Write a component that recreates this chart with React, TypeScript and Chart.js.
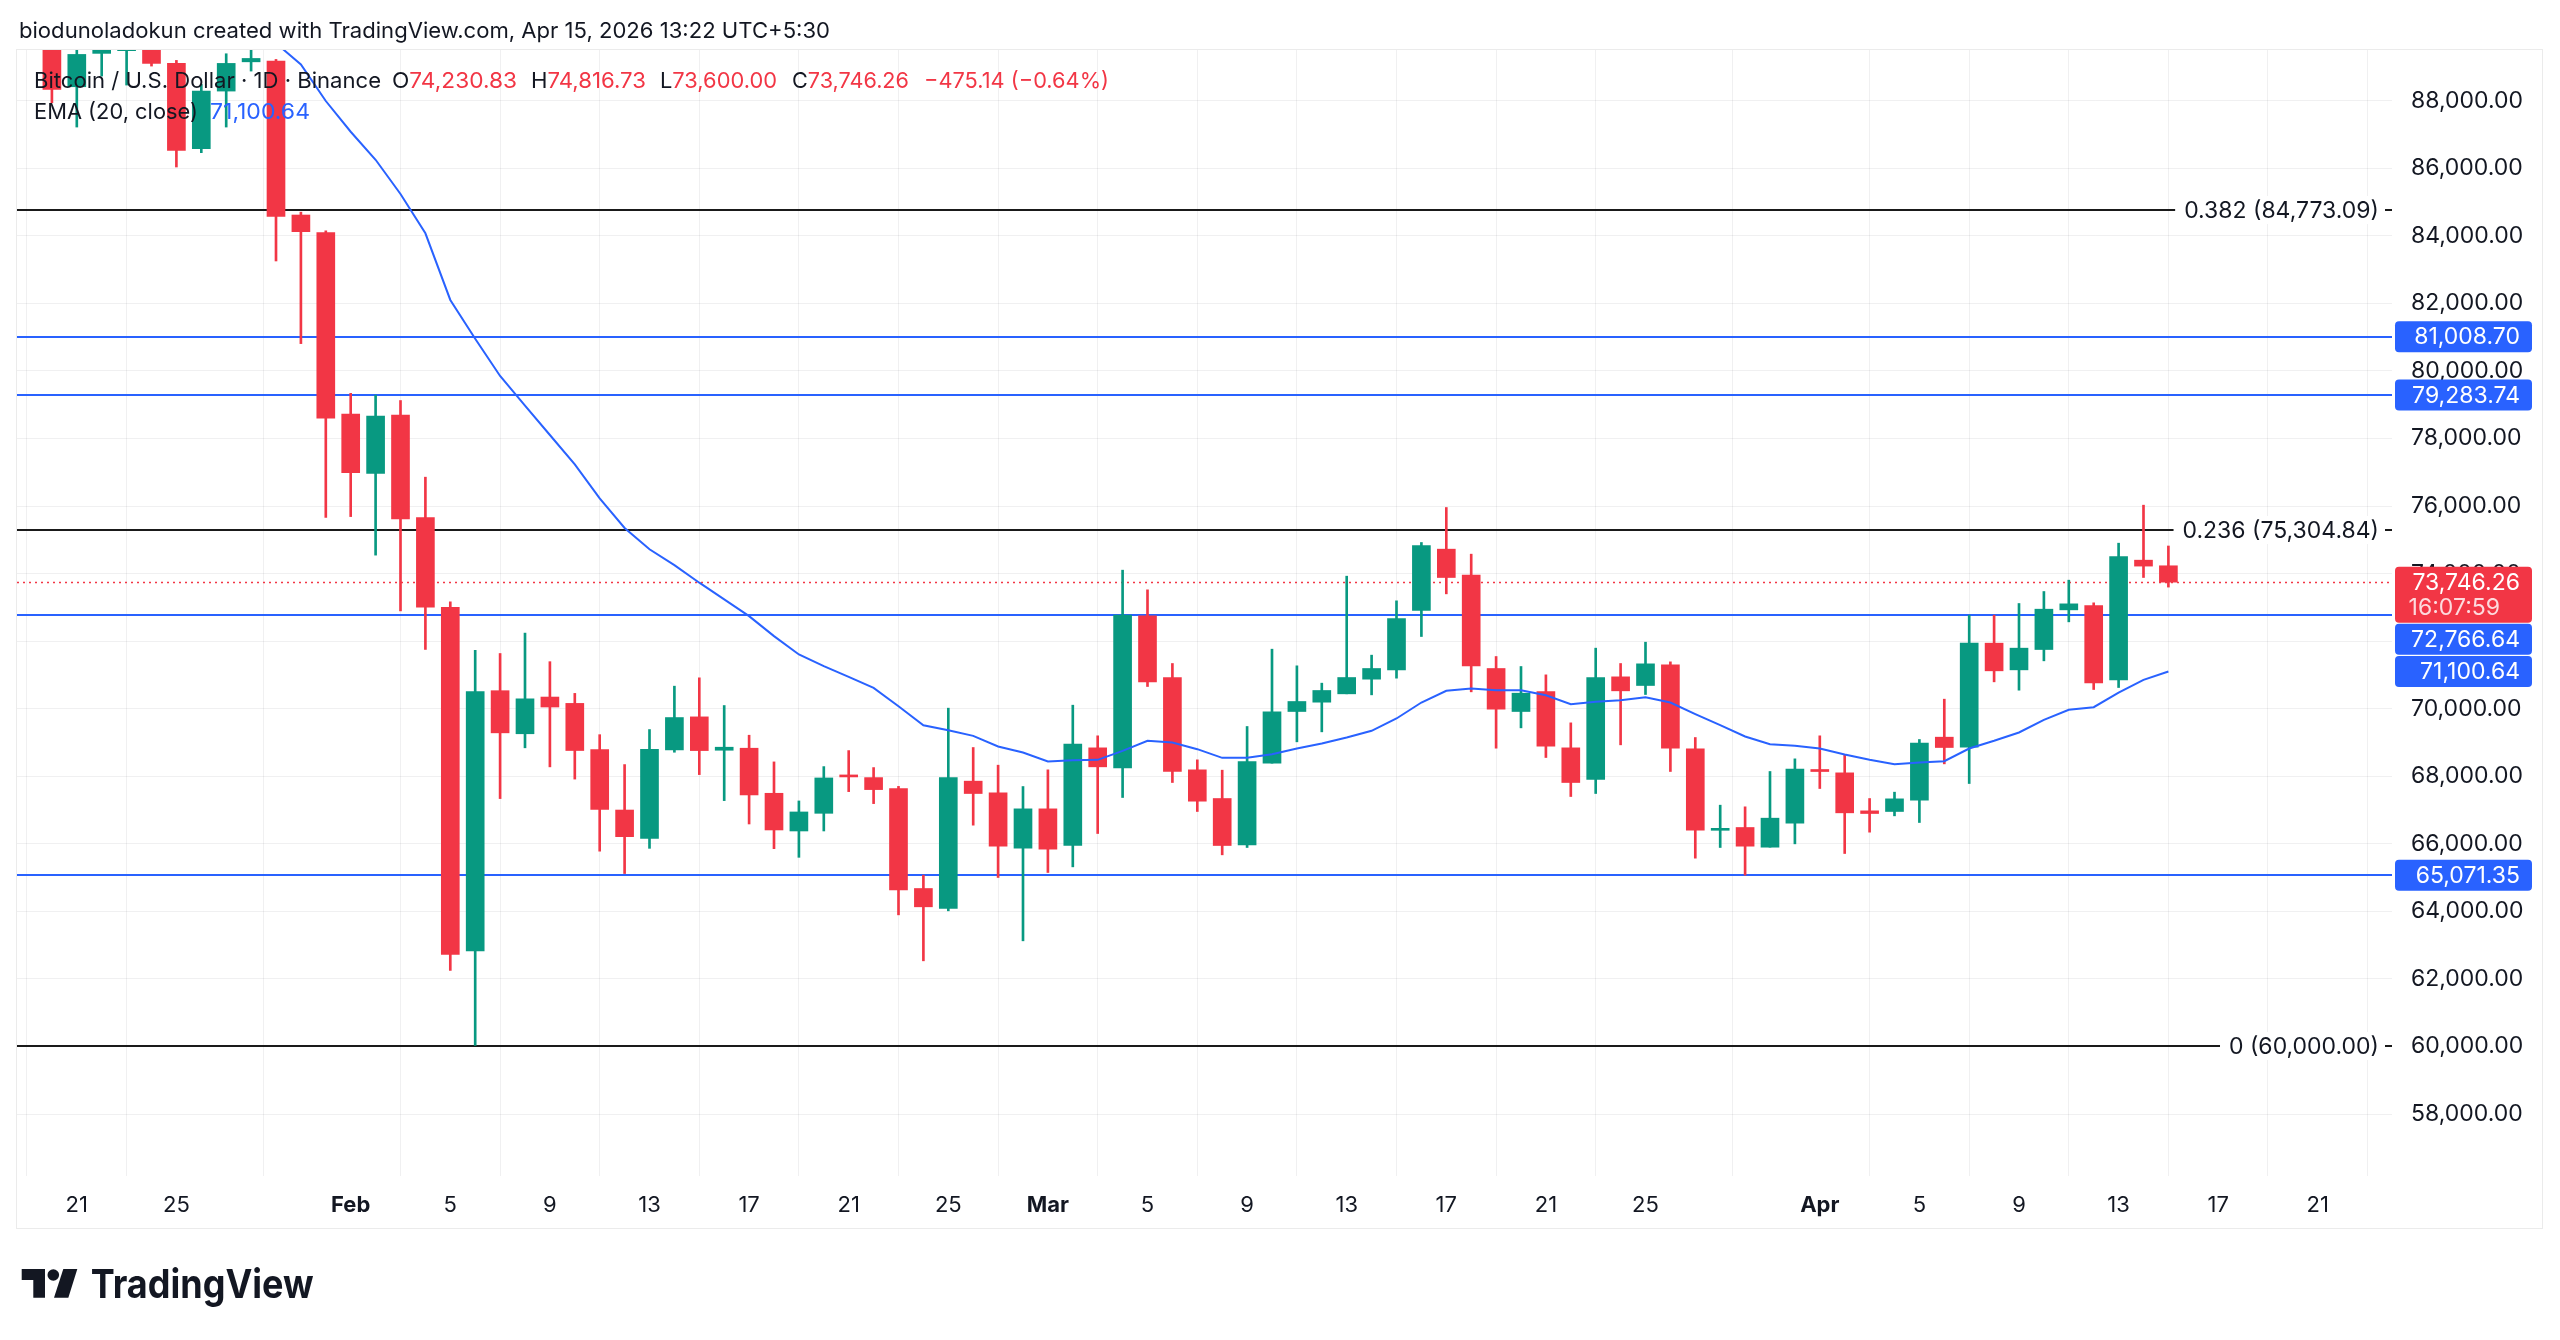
import React, { useEffect, useRef } from "react";
import { Chart, registerables } from "chart.js";

Chart.register(...registerables);

const dates = [
  "2026-01-19","2026-01-20","2026-01-21","2026-01-22","2026-01-23","2026-01-24","2026-01-25","2026-01-26","2026-01-27","2026-01-28","2026-01-29","2026-01-30","2026-01-31",
  "2026-02-01","2026-02-02","2026-02-03","2026-02-04","2026-02-05","2026-02-06","2026-02-07","2026-02-08","2026-02-09","2026-02-10","2026-02-11","2026-02-12","2026-02-13","2026-02-14",
  "2026-02-15","2026-02-16","2026-02-17","2026-02-18","2026-02-19","2026-02-20","2026-02-21","2026-02-22","2026-02-23","2026-02-24","2026-02-25","2026-02-26","2026-02-27","2026-02-28",
  "2026-03-01","2026-03-02","2026-03-03","2026-03-04","2026-03-05","2026-03-06","2026-03-07","2026-03-08","2026-03-09","2026-03-10","2026-03-11","2026-03-12","2026-03-13","2026-03-14",
  "2026-03-15","2026-03-16","2026-03-17","2026-03-18","2026-03-19","2026-03-20","2026-03-21","2026-03-22","2026-03-23","2026-03-24","2026-03-25","2026-03-26","2026-03-27","2026-03-28",
  "2026-03-29","2026-03-30","2026-03-31",
  "2026-04-01","2026-04-02","2026-04-03","2026-04-04","2026-04-05","2026-04-06","2026-04-07","2026-04-08","2026-04-09","2026-04-10","2026-04-11","2026-04-12","2026-04-13","2026-04-14","2026-04-15",
];

const opens = [
  93600, 92550, 88412, 89400, 89480, 89560, 89103, 86578, 88284, 89150, 89172, 84615, 84093,
  78720, 76962, 78693, 75660, 73003, 62829, 70533, 69258, 70345, 70157, 68788, 67000, 66163, 68780,
  69758, 68770, 68830, 67496, 66380, 66903, 68010, 67960, 67637, 64677, 64085, 67855, 67509, 65871,
  67035, 65950, 68841, 68249, 72749, 70923, 68190, 67341, 65970, 68387, 69917, 70193, 70440, 70874,
  71150, 72907, 74723, 73953, 71190, 69917, 70509, 68841, 67904, 70943, 70687, 71298, 68811, 66400,
  66483, 65900, 66611,
  68200, 68101, 66976, 66957, 67292, 69157, 68861, 71940, 71150, 71752, 72926, 73055, 70854, 74397, 74230.83,
];

const highs = [
  93700, 92800, 90300, 90200, 91000, 89700, 89192, 88482, 89389, 90500, 89221, 84700, 84150,
  79337, 79284, 79123, 76854, 73164, 71728, 71634, 72238, 71392, 70453, 69231, 68346, 69383, 70667,
  70914, 70094, 69215, 68425, 67269, 68286, 68760, 68257, 67700, 65072, 70016, 68851, 68328, 67696,
  68190, 70104, 69197, 74101, 73519, 71338, 68486, 68180, 69473, 71762, 71269, 70756, 73923, 71585,
  73193, 74920, 75956, 74575, 71545, 71249, 71002, 69581, 71792, 71338, 71969, 71387, 69147, 67144,
  67095, 68141, 68515,
  69197, 68634, 67341, 67529, 69088, 70282, 72769, 72769, 73114, 73469, 73805, 73134, 74900, 76025, 74816.73,
];

const lows = [
  91900, 87939, 87219, 88728, 88462, 89024, 86036, 86460, 87219, 88876, 83254, 80808, 75660,
  75687, 74546, 72895, 71754, 62253, 60030, 67339, 68842, 68278, 67916, 65782, 65120, 65866, 68711,
  68049, 67279, 66587, 65857, 65600, 66380, 67545, 67190, 63897, 62536, 64016, 66552, 65003, 63128,
  65151, 65318, 66305, 67371, 70657, 67815, 66957, 65674, 65891, 68387, 69019, 69315, 70440, 70410,
  70904, 72137, 73400, 70499, 68831, 69433, 68555, 67400, 67489, 68930, 70420, 68141, 65575, 65891,
  65072, 65900, 65999,
  67637, 65713, 66345, 66828, 66631, 68367, 67785, 70795, 70548, 71417, 72571, 70568, 70627, 73884, 73600.0,
];

const closes = [
  92550, 88333, 89369, 89550, 89560, 89103, 86529, 88284, 89103, 89250, 84576, 84122, 78599,
  76989, 78666, 75620, 73003, 62722, 70506, 69285, 70292, 70050, 68762, 67017, 66212, 68800, 69738,
  68760, 68860, 67447, 66410, 66943, 67950, 67980, 67605, 64637, 64135, 67963, 67489, 65930, 67035,
  65842, 68950, 68279, 72769, 70795, 68141, 67262, 65950, 68437, 69907, 70213, 70539, 70923, 71190,
  72670, 74831, 73884, 71269, 69986, 70459, 68890, 67815, 70923, 70529, 71328, 68831, 66404, 66440,
  65930, 66759, 68210,
  68140, 66917, 66897, 67331, 68979, 68851, 71940, 71121, 71792, 72946, 73104, 70765, 74506, 74221.4, 73746.26,
];

const ema20 = [
  91700, 91400, 91200, 91000, 90900, 90800, 90650, 90450, 90350, 90270, 89700, 89073, 87990,
  87080, 86250, 85238, 84073, 82100, 80950, 79850, 78975, 78103, 77230, 76224, 75351, 74720, 74250,
  73730, 73235, 72741, 72148, 71605, 71259, 70943, 70617, 70074, 69510, 69364, 69196, 68881, 68703,
  68437, 68476, 68486, 68753, 69049, 68999, 68802, 68545, 68545, 68654, 68822, 68969, 69147, 69345,
  69710, 70183, 70529, 70598, 70548, 70548, 70400, 70134, 70203, 70252, 70341, 70183, 69838, 69512,
  69177, 68950, 68900,
  68822, 68644, 68486, 68358, 68407, 68446, 68822, 69049, 69295, 69670, 69966, 70045, 70479, 70854, 71100.64,
];

const xTickDates = [
  "2026-01-21","2026-01-25","2026-02-01","2026-02-05","2026-02-09","2026-02-13","2026-02-17","2026-02-21","2026-02-25",
  "2026-03-01","2026-03-05","2026-03-09","2026-03-13","2026-03-17","2026-03-21","2026-03-25",
  "2026-04-01","2026-04-05","2026-04-09","2026-04-13","2026-04-17","2026-04-21",
];
const xTickLabels = ["21","25","Feb","5","9","13","17","21","25","Mar","5","9","13","17","21","25","Apr","5","9","13","17","21"];
const monthLabels = ["Feb", "Mar", "Apr"];

const yTicks = [58000, 60000, 62000, 64000, 66000, 68000, 70000, 72000, 74000, 76000, 78000, 80000, 82000, 84000, 86000, 88000];
const yMin = 56166;
const yMax = 89500;

const fibRatios = ["0.382", "0.236", "0"];
const fibValues = [84773.09, 75304.84, 60000.0];
const levelValues = [81008.7, 79283.74, 72766.64, 65071.35];
const lastPrice = 73746.26;
const countdown = "16:07:59";
const emaLast = 71100.64;

const RED = "#F23645";
const GREEN = "#089981";
const BLUE = "#2962FF";
const TEXT = "#131722";
const GRID = "rgba(42,46,57,0.07)";
const FONT = "Inter, 'Noto Sans', sans-serif";
const AXIS_FONT_SIZE = 23;

const DAY = 86400000;
const t0 = Date.parse(dates[0]);
const dayOf = (d: string) => Math.round((Date.parse(d) - t0) / DAY);
const fmt = (v: number) => v.toLocaleString("en-US", { minimumFractionDigits: 2, maximumFractionDigits: 2 });

const CANVAS_W = 2525;
const CANVAS_H = 1178;
const AXIS_W = 150;
const AXIS_H = 52;
const X_MIN = -0.4016;
const X_MAX = 94.98;

const zeroPad = (s: any) => {
  s.paddingTop = 0;
  s.paddingBottom = 0;
  s.paddingLeft = 0;
  s.paddingRight = 0;
};

const levelsPlugin = {
  id: "levels",
  beforeDatasetsDraw(chart: any) {
    const { ctx, chartArea: a, scales } = chart;
    const y = scales.y;
    ctx.save();
    ctx.beginPath();
    ctx.rect(a.left, a.top, a.right - a.left, a.bottom - a.top);
    ctx.clip();
    ctx.lineWidth = 2;
    ctx.strokeStyle = BLUE;
    levelValues.forEach((v) => {
      const py = Math.round(y.getPixelForValue(v));
      ctx.beginPath();
      ctx.moveTo(a.left, py);
      ctx.lineTo(a.right, py);
      ctx.stroke();
    });
    ctx.strokeStyle = "#1a1a1a";
    fibValues.forEach((v) => {
      const py = Math.round(y.getPixelForValue(v));
      ctx.beginPath();
      ctx.moveTo(a.left, py);
      ctx.lineTo(a.right, py);
      ctx.stroke();
    });
    ctx.strokeStyle = RED;
    ctx.setLineDash([2, 4]);
    const pl = Math.round(y.getPixelForValue(lastPrice)) + 0.5;
    ctx.lineWidth = 1.6;
    ctx.beginPath();
    ctx.moveTo(a.left, pl);
    ctx.lineTo(a.right, pl);
    ctx.stroke();
    ctx.restore();
  },
  afterDatasetsDraw(chart: any) {
    const { ctx, chartArea: a, scales } = chart;
    const y = scales.y;
    ctx.save();
    ctx.font = `${AXIS_FONT_SIZE}px ${FONT}`;
    ctx.textBaseline = "middle";
    ctx.textAlign = "right";
    fibRatios.forEach((r, i) => {
      const v = fibValues[i];
      const py = Math.round(y.getPixelForValue(v));
      const txt = `${r} (${fmt(v)})`;
      const w = ctx.measureText(txt).width;
      const tx = a.right - 13;
      ctx.fillStyle = "#ffffff";
      ctx.fillRect(tx - w - 9, py - 14, w + 9 + 6, 28);
      ctx.fillStyle = TEXT;
      ctx.fillText(txt, tx, py + 1);
    });
    ctx.restore();
  },
  afterDraw(chart: any) {
    const { ctx, chartArea: a, scales } = chart;
    const y = scales.y;
    const items = [
      ...levelValues.map((v) => ({ v, color: BLUE, two: false })),
      { v: emaLast, color: BLUE, two: false },
      { v: lastPrice, color: RED, two: true },
    ].sort((p, q) => q.v - p.v);
    ctx.save();
    ctx.font = `${AXIS_FONT_SIZE}px ${FONT}`;
    ctx.textBaseline = "middle";
    ctx.textAlign = "right";
    let prevBottom = -Infinity;
    const bx = a.right + 3;
    const bw = 137;
    items.forEach((it) => {
      const h = it.two ? 56 : 31;
      const py = y.getPixelForValue(it.v);
      let top = py - 15.5;
      if (top < prevBottom + 1) top = prevBottom + 1;
      ctx.fillStyle = it.color;
      ctx.beginPath();
      (ctx as any).roundRect(bx, top, bw, h, 4);
      ctx.fill();
      ctx.fillStyle = "#ffffff";
      ctx.fillText(fmt(it.v), a.right + 128, top + 16);
      if (it.two) {
        ctx.fillStyle = "rgba(255,255,255,0.82)";
        ctx.fillText(countdown, a.right + 108, top + 41);
      }
      prevBottom = top + h;
    });
    ctx.restore();
  },
};

export default function App() {
  const ref = useRef<HTMLCanvasElement>(null);

  useEffect(() => {
    document.body.style.margin = "0";
    document.body.style.background = "#ffffff";
    const xs = dates.map(dayOf);
    const colors = closes.map((c, i) => (c >= opens[i] ? GREEN : RED));
    const tickVals = xTickDates.map(dayOf);

    const chart = new Chart(ref.current as HTMLCanvasElement, {
      type: "bar",
      data: {
        datasets: [
          {
            type: "line",
            label: "EMA (20, close)",
            data: ema20.map((v, i) => ({ x: xs[i], y: v })),
            borderColor: BLUE,
            borderWidth: 2,
            pointRadius: 0,
            tension: 0,
            clip: 0,
            order: 0,
          } as any,
          {
            label: "body",
            data: opens.map((o, i) => ({ x: xs[i], y: [o, closes[i]] })),
            backgroundColor: colors,
            borderWidth: 0,
            barThickness: 18,
            minBarLength: 2,
            grouped: false,
            clip: 0,
            order: 1,
          } as any,
          {
            label: "wick",
            data: lows.map((l, i) => ({ x: xs[i], y: [l, highs[i]] })),
            backgroundColor: colors,
            borderWidth: 0,
            barThickness: 2,
            grouped: false,
            clip: 0,
            order: 2,
          } as any,
        ],
      },
      options: {
        responsive: false,
        maintainAspectRatio: false,
        animation: false,
        devicePixelRatio: 1,
        layout: { padding: 0, autoPadding: false },
        plugins: { legend: { display: false }, tooltip: { enabled: false } },
        scales: {
          x: {
            type: "linear",
            position: "bottom",
            min: X_MIN,
            max: X_MAX,
            offset: false,
            grid: { color: GRID, drawTicks: false, lineWidth: 1 },
            border: { display: false },
            afterBuildTicks: (s: any) => {
              s.ticks = tickVals.map((v) => ({ value: v }));
            },
            afterFit: (s: any) => {
              s.height = AXIS_H;
              zeroPad(s);
            },
            ticks: {
              autoSkip: false,
              maxRotation: 0,
              minRotation: 0,
              padding: 16,
              color: TEXT,
              font: (c: any) => ({
                family: FONT,
                size: 22,
                weight: monthLabels.includes(xTickLabels[c.index]) ? "bold" : "normal",
              }),
              callback: (_v: any, i: number) => xTickLabels[i],
            },
          },
          y: {
            type: "linear",
            position: "right",
            min: yMin,
            max: yMax,
            grid: { color: GRID, drawTicks: false, lineWidth: 1 },
            border: { display: false },
            afterBuildTicks: (s: any) => {
              s.ticks = yTicks.map((v) => ({ value: v }));
            },
            afterFit: (s: any) => {
              s.width = AXIS_W;
              zeroPad(s);
            },
            ticks: {
              crossAlign: "near",
              padding: 19,
              color: TEXT,
              font: { family: FONT, size: AXIS_FONT_SIZE },
              callback: (v: any) => fmt(Number(v)),
            },
          },
        },
      },
      plugins: [levelsPlugin],
    } as any);
    return () => chart.destroy();
  }, []);

  return (
    <div style={{ position: "relative", width: 2560, height: 1340, background: "#ffffff", overflow: "hidden", fontFamily: FONT }}>
      <div
        style={{
          position: "absolute",
          left: 16,
          top: 49,
          width: 2525,
          height: 1178,
          border: "1px solid #ebebeb",
        }}
      />
      <canvas
        ref={ref}
        width={CANVAS_W}
        height={CANVAS_H}
        style={{ position: "absolute", left: 17, top: 50, width: CANVAS_W, height: CANVAS_H }}
      />
      <svg
        width={2560}
        height={1340}
        style={{ position: "absolute", left: 0, top: 0, pointerEvents: "none" }}
        fontFamily={FONT}
      >
        <text x={19} y={30} fontSize={22} fill={TEXT} dominantBaseline="central" textLength={811} lengthAdjust="spacingAndGlyphs">
          biodunoladokun created with TradingView.com, Apr 15, 2026 13:22 UTC+5:30
        </text>
        <text x={34} y={80} fontSize={22} fill={TEXT} dominantBaseline="central" textLength={347} lengthAdjust="spacingAndGlyphs">
          Bitcoin / U.S. Dollar · 1D · Binance
        </text>
        <text x={392} y={80} fontSize={22} dominantBaseline="central" textLength={125} lengthAdjust="spacingAndGlyphs">
          <tspan fill={TEXT}>O</tspan>
          <tspan fill={RED}>74,230.83</tspan>
        </text>
        <text x={531} y={80} fontSize={22} dominantBaseline="central" textLength={115} lengthAdjust="spacingAndGlyphs">
          <tspan fill={TEXT}>H</tspan>
          <tspan fill={RED}>74,816.73</tspan>
        </text>
        <text x={660} y={80} fontSize={22} dominantBaseline="central" textLength={117} lengthAdjust="spacingAndGlyphs">
          <tspan fill={TEXT}>L</tspan>
          <tspan fill={RED}>73,600.00</tspan>
        </text>
        <text x={792} y={80} fontSize={22} dominantBaseline="central" textLength={117} lengthAdjust="spacingAndGlyphs">
          <tspan fill={TEXT}>C</tspan>
          <tspan fill={RED}>73,746.26</tspan>
        </text>
        <text x={924} y={80} fontSize={22} fill={RED} dominantBaseline="central" textLength={185} lengthAdjust="spacingAndGlyphs">
          −475.14 (−0.64%)
        </text>
        <text x={34} y={111} fontSize={22} fill={TEXT} dominantBaseline="central" textLength={164} lengthAdjust="spacingAndGlyphs">
          EMA (20, close)
        </text>
        <text x={210} y={111} fontSize={22} fill={BLUE} dominantBaseline="central" textLength={100} lengthAdjust="spacingAndGlyphs">
          71,100.64
        </text>
        <g fill="#131722">
          <polygon points="21.7,1269 45,1269 45,1297.7 33.3,1297.7 33.3,1280 21.7,1280" />
          <circle cx={53.3} cy={1275} r={5.8} />
          <polygon points="63.3,1269 77.3,1269 68.3,1297.7 54,1297.7" />
        </g>
        <text x={90.7} y={1297.7} fontSize={40} fontWeight={700} fill={TEXT} textLength={223} lengthAdjust="spacingAndGlyphs">
          TradingView
        </text>
      </svg>
    </div>
  );
}
